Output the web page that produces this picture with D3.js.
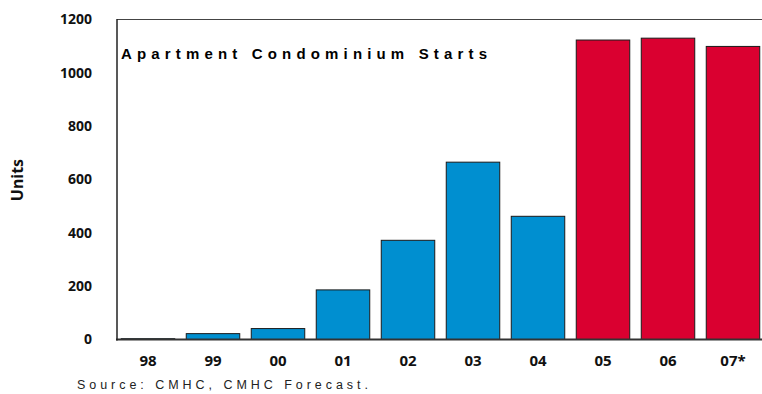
<!DOCTYPE html>
<html><head><meta charset="utf-8">
<script src="https://cdn.jsdelivr.net/npm/d3@7"></script>
<style>body{margin:0;background:#fff}svg{display:block}</style>
</head><body>
<script>
const categories = ["98","99","00","01","02","03","04","05","06","07*"];
const values = [3, 22, 41, 186, 372, 665, 462, 1123, 1130, 1099];
const forecastFlags = [false,false,false,false,false,false,false,true,true,true];
const yTicks = [0,200,400,600,800,1000,1200];

const W = 762, H = 394;
const svg = d3.select("body").append("svg").attr("width", W).attr("height", H);
const font = "'Noto Sans', 'Open Sans', sans-serif";

const x = d3.scaleBand().domain(categories).range([115.5, 765.5]).paddingInner(0.177).paddingOuter(0.0885);
const y = d3.scaleLinear().domain([0, 1200]).range([339.5, 19.5]);

svg.append("line").attr("x1",117).attr("x2",762).attr("y1",y(1200)).attr("y2",y(1200))
  .attr("stroke","#444").attr("stroke-width",1);

svg.selectAll("rect.bar").data(values).enter().append("rect")
  .attr("x",(d,i)=>x(categories[i]))
  .attr("y",d=>y(d))
  .attr("width",x.bandwidth())
  .attr("height",d=>y(0)-y(d))
  .attr("fill",(d,i)=>forecastFlags[i] ? "#DA0030" : "#008FD0")
  .attr("stroke","#1a1a1a").attr("stroke-width",1);

svg.append("line").attr("x1",116).attr("x2",762).attr("y1",y(0)).attr("y2",y(0))
  .attr("stroke","#333").attr("stroke-width",2);
svg.append("line").attr("x1",117).attr("x2",117).attr("y1",y(1200)-0.5).attr("y2",y(0)+1)
  .attr("stroke","#222").attr("stroke-width",1.5);

svg.selectAll("text.yt").data(yTicks).enter().append("text")
  .attr("x",92).attr("y",d=>y(d)).attr("dy","0.35em")
  .attr("text-anchor","end").attr("font-family",font).attr("font-weight","bold")
  .attr("font-size",14).attr("fill","#111").text(d=>d);

svg.selectAll("text.xt").data(categories).enter().append("text")
  .attr("x",d=>x(d)+x.bandwidth()/2).attr("y",366)
  .attr("text-anchor","middle").attr("font-family",font).attr("font-weight","bold")
  .attr("font-size",15).attr("fill","#111").text(d=>d);

svg.append("text").attr("transform","translate(23,180) rotate(-90)")
  .attr("text-anchor","middle").attr("font-family",font).attr("font-weight","bold")
  .attr("font-size",16).attr("fill","#111").text("Units");

svg.append("text").attr("x",121).attr("y",58.5)
  .attr("font-family","Arial, 'Liberation Sans', sans-serif").attr("font-weight","bold")
  .attr("font-size",15).attr("fill","#000")
  .attr("textLength",366).attr("lengthAdjust","spacing")
  .text("Apartment Condominium Starts");

svg.append("text").attr("x",77).attr("y",389)
  .attr("font-family","Arial, 'Liberation Sans', sans-serif")
  .attr("font-size",12.5).attr("fill","#222")
  .attr("textLength",291).attr("lengthAdjust","spacing")
  .text("Source: CMHC, CMHC Forecast.");
</script>
</body></html>
